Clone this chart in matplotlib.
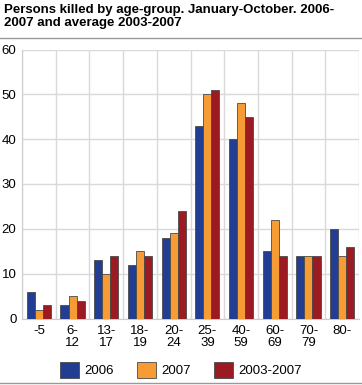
import matplotlib
matplotlib.use("Agg")
import matplotlib.pyplot as plt
import numpy as np

categories = ["-5\n", "6-\n12", "13-\n17", "18-\n19", "20-\n24", "25-\n39", "40-\n59", "60-\n69", "70-\n79", "80-\n"]
series_names = ["2006", "2007", "2003-2007"]
v2006 = [6, 3, 13, 12, 18, 43, 40, 15, 14, 20]
v2007 = [2, 5, 10, 15, 19, 50, 48, 22, 14, 14]
vavg = [3, 4, 14, 14, 24, 51, 45, 14, 14, 16]
colors = ["#223e92", "#f79b34", "#9c1b22"]

plt.rcParams['font.family'] = ['Liberation Sans', 'DejaVu Sans']

fig = plt.figure(figsize=(3.62, 3.85), dpi=100)
ax = fig.add_axes([22/362, 1 - 318.5/385, (359-22)/362, (318.5-49.5)/385])

x = np.arange(len(categories))
w = 0.24
for i, (vals, c, name) in enumerate(zip([v2006, v2007, vavg], colors, series_names)):
    ax.bar(x + (i - 1) * w, vals, w, color=c, edgecolor="#4a4a4a", linewidth=0.6, label=name, zorder=3)

ax.set_xlim(-0.5, len(categories) - 0.5)
ax.set_ylim(0, 60)
ax.set_yticks([0, 10, 20, 30, 40, 50, 60])
ax.set_xticks(x)
ax.set_xticklabels(categories, fontsize=9.5, linespacing=0.95)
ax.set_xticks(np.arange(len(categories) + 1) - 0.5, minor=True)
ax.tick_params(axis='x', which='both', length=0, pad=5)
ax.tick_params(axis='y', length=0, labelsize=9.5, pad=4)
ax.grid(axis='x', which='minor', color="#d9d9d9", linewidth=1, zorder=0)
ax.grid(axis='y', which='major', color="#d9d9d9", linewidth=1, zorder=0)
for s in ["top", "right"]:
    ax.spines[s].set_visible(False)
ax.spines["left"].set_color("#cccccc")
ax.spines["bottom"].set_color("#cccccc")

fig.text(4/362, 1 - 4/385, "Persons killed by age-group. January-October. 2006-\n2007 and average 2003-2007",
         fontsize=9.5, fontweight="bold", va="top", ha="left", linespacing=1.1)
fig.add_artist(plt.Line2D([0, 1], [1 - 37.5/385, 1 - 37.5/385], color="#999999", linewidth=1))
fig.add_artist(plt.Line2D([0, 1], [1 - 383/385, 1 - 383/385], color="#999999", linewidth=1))

handles, labels = ax.get_legend_handles_labels()
fig.legend(handles, labels, loc="center", bbox_to_anchor=(0.5, 1 - 370/385), ncol=3, frameon=False,
           fontsize=9.5, handlelength=1.4, handleheight=1.4, columnspacing=1.8, handletextpad=0.4)

fig.savefig("out.png", dpi=100)
